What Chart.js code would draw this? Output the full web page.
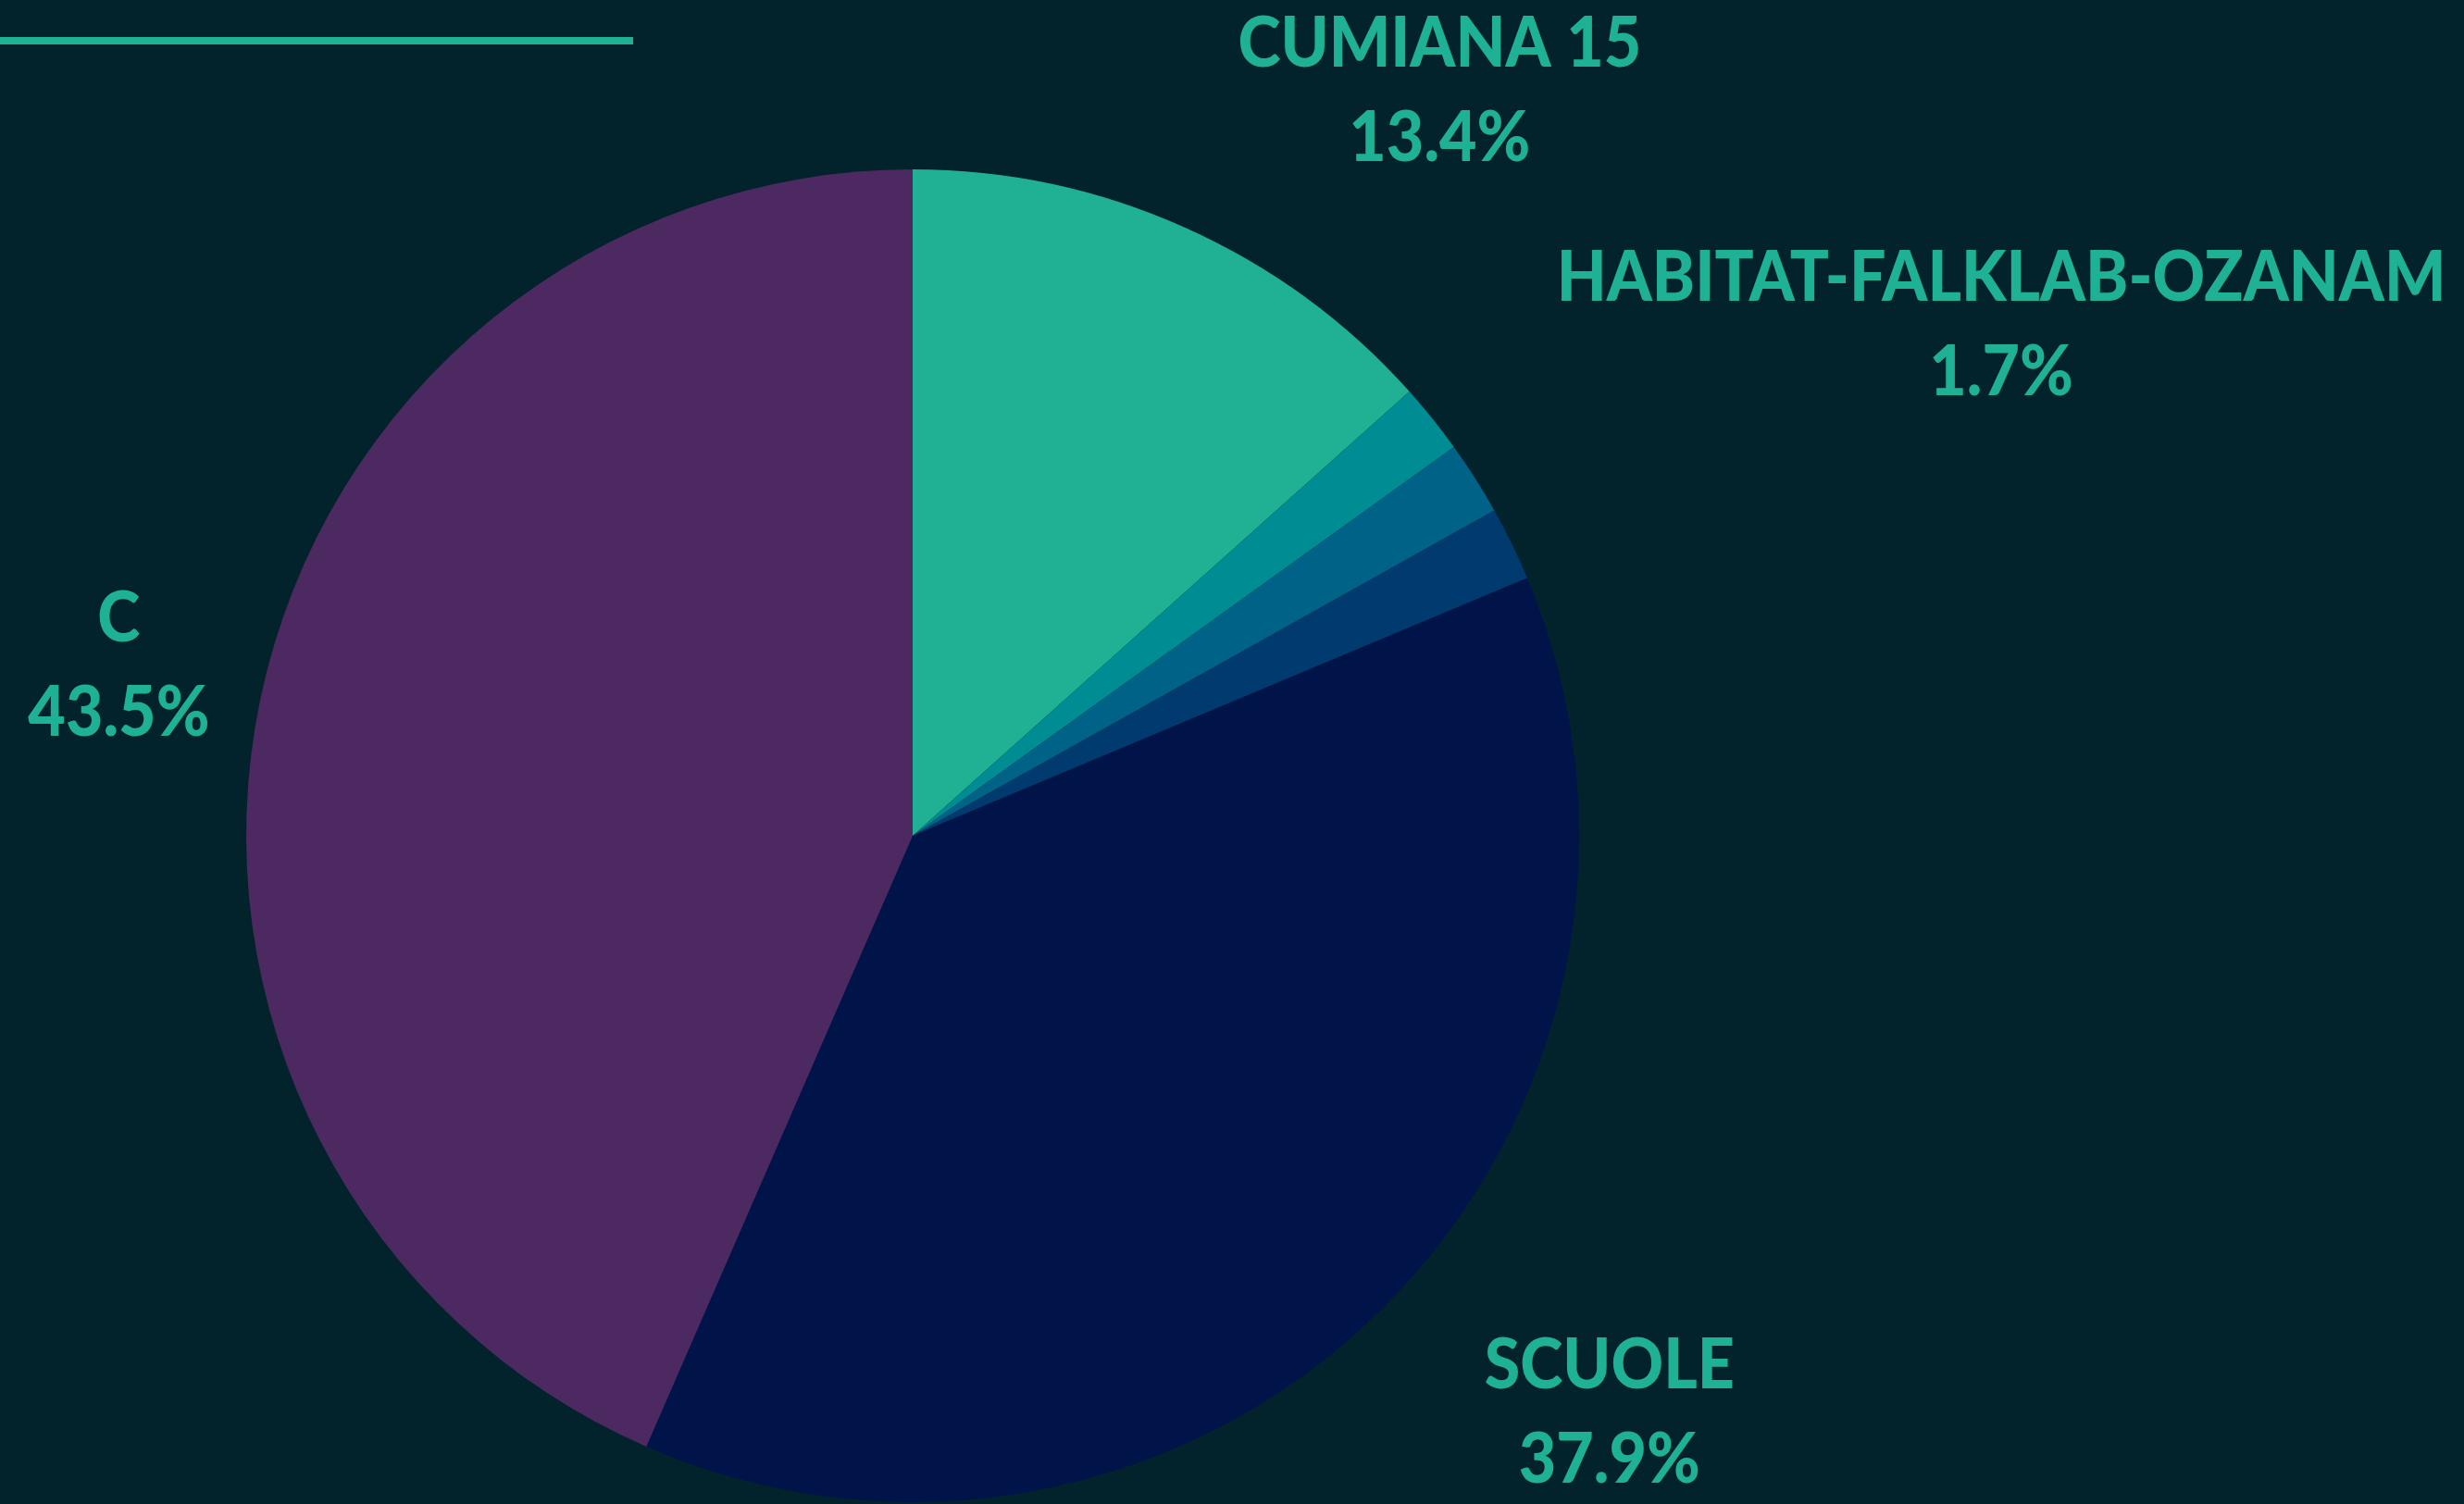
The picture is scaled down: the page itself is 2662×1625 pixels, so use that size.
<!DOCTYPE html>
<html><head><meta charset="utf-8">
<script src="https://cdn.jsdelivr.net/npm/chart.js@4/dist/chart.umd.min.js"></script>
<style>
html,body{margin:0;padding:0;background:#03232c;}
#wrap{position:relative;width:2662px;height:1625px;}
canvas{display:block;}
</style></head>
<body><div id="wrap"><canvas id="c" width="2662" height="1625"></canvas></div>
<script>
const categories = ["Cumiana 15", "Habitat-Falklab-Ozanam", "Altro A", "Altro B", "Scuole", "C"];
const values = [13.4, 1.7, 1.8, 1.8, 37.9, 43.5];
const percentLabels = ["13.4%", "1.7%", "", "", "37.9%", "43.5%"];
const shownLabels = [true, true, false, false, true, true];
const sliceColors = ["#20b194", "#008c93", "#006286", "#003a6e", "#00144a", "#4d2962"];

// label placement relative to each arc: angle shift (deg) from mid-angle, distance factor of outer radius
const labelPlacement = [
  {dAngle: 11.1, k: 1.372},
  {dAngle: 13.5, k: 1.806},
  null, null,
  {dAngle: -5.9, k: 1.355},
  {dAngle: 0.5, k: 1.219}
];

const TEXT_COLOR = "#1eb196";
const FONT_FAMILY = "Lato, 'Open Sans', sans-serif";

const decoPlugin = {
  id: 'deco',
  beforeDraw(chart) {
    const ctx = chart.ctx;
    ctx.save();
    ctx.fillStyle = "#03232c";
    ctx.fillRect(0, 0, chart.width, chart.height);
    ctx.fillStyle = TEXT_COLOR;
    ctx.fillRect(0, 40, 684, 8);
    ctx.restore();
  },
  afterDatasetsDraw(chart) {
    const ctx = chart.ctx;
    const meta = chart.getDatasetMeta(0);
    ctx.save();
    ctx.fillStyle = TEXT_COLOR;
    ctx.textAlign = 'center';
    ctx.textBaseline = 'alphabetic';
    meta.data.forEach((arc, i) => {
      if (!shownLabels[i]) return;
      const p = labelPlacement[i];
      const mid = (arc.startAngle + arc.endAngle) / 2 + p.dAngle * Math.PI / 180;
      const r = arc.outerRadius * p.k;
      const cx = arc.x + Math.cos(mid) * r;
      const cy = arc.y + Math.sin(mid) * r;
      const sx = 0.92;
      ctx.save();
      ctx.translate(cx, cy);
      ctx.scale(sx, 1);
      ctx.font = "900 76px " + FONT_FAMILY;
      ctx.fillText(categories[i].toUpperCase(), 0, -23.5);
      ctx.font = "900 76px " + FONT_FAMILY;
      ctx.fillText(percentLabels[i], 0, 78.5);
      ctx.restore();
    });
    ctx.restore();
  }
};

new Chart(document.getElementById('c'), {
  type: 'pie',
  data: {
    labels: categories,
    datasets: [{
      data: values,
      backgroundColor: sliceColors,
      borderWidth: 0
    }]
  },
  options: {
    responsive: false,
    animation: false,
    layout: {padding: {top: 183, bottom: 2, left: 266, right: 956}},
    plugins: {legend: {display: false}, tooltip: {enabled: false}}
  },
  plugins: [decoPlugin]
});
</script>
</body></html>
